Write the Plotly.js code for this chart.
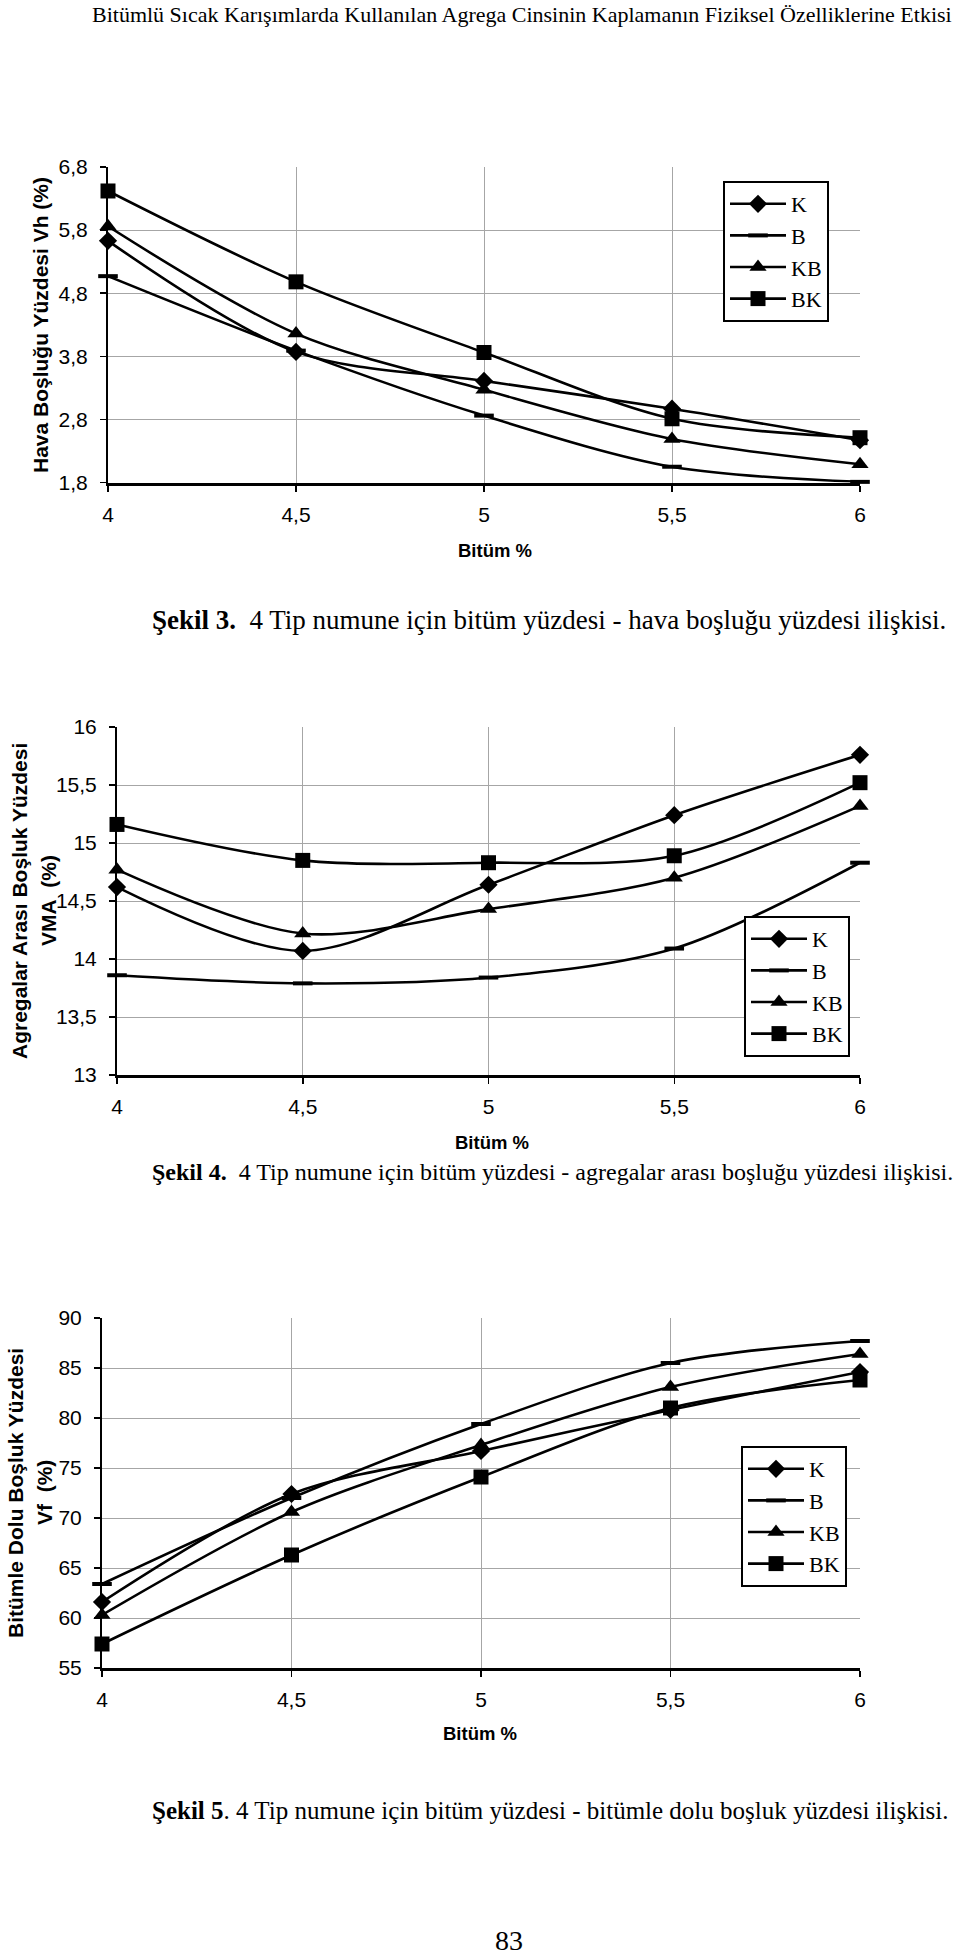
<!DOCTYPE html>
<html>
<head>
<meta charset="utf-8">
<script src="https://cdn.plot.ly/plotly-3.0.1.min.js"></script>
<style>
  html, body { margin: 0; padding: 0; background: #ffffff; }
  #chart { width: 960px; height: 1956px; }
</style>
</head>
<body>
<div id="chart"></div>
<script>
// ---------------- DATA ----------------
const bitum = [4, 4.5, 5, 5.5, 6];
const xTickVals = [4, 4.5, 5, 5.5, 6];
const xTickText = ['4', '4,5', '5', '5,5', '6'];
const seriesNames = ['K', 'B', 'KB', 'BK'];

// Şekil 3: Hava boşluğu yüzdesi Vh (%)
const vhK  = [5.63, 3.87, 3.41, 2.97, 2.47];
const vhB  = [5.07, 3.89, 2.86, 2.05, 1.81];
const vhKB = [5.86, 4.16, 3.27, 2.49, 2.09];
const vhBK = [6.42, 4.98, 3.86, 2.81, 2.51];
const vhTickVals = [1.8, 2.8, 3.8, 4.8, 5.8, 6.8];
const vhTickText = ['1,8', '2,8', '3,8', '4,8', '5,8', '6,8'];

// Şekil 4: VMA (%)
const vmaK  = [14.62, 14.07, 14.64, 15.24, 15.76];
const vmaB  = [13.86, 13.79, 13.84, 14.09, 14.83];
const vmaKB = [14.77, 14.22, 14.43, 14.70, 15.32];
const vmaBK = [15.16, 14.85, 14.83, 14.89, 15.52];
const vmaTickVals = [13, 13.5, 14, 14.5, 15, 15.5, 16];
const vmaTickText = ['13', '13,5', '14', '14,5', '15', '15,5', '16'];

// Şekil 5: Vf (%)
const vfK  = [61.6, 72.4, 76.7, 80.8, 84.6];
const vfB  = [63.4, 72.0, 79.4, 85.5, 87.7];
const vfKB = [60.3, 70.6, 77.3, 83.1, 86.4];
const vfBK = [57.4, 66.3, 74.1, 81.0, 83.8];
const vfTickVals = [55, 60, 65, 70, 75, 80, 85, 90];
const vfTickText = ['55', '60', '65', '70', '75', '80', '85', '90'];

// ---------------- STYLE ----------------
const W = 960, H = 1956;
const SANS = 'Liberation Sans, Arial, sans-serif';
const SERIF = 'Liberation Serif, Times New Roman, serif';
const px = p => p / W;
const py = p => 1 - p / H;

const markerStyles = {
  K:  { symbol: 'diamond', size: 14, color: '#000' },
  B:  { symbol: 'line-ew', size: 14, color: '#000', line: { width: 4, color: '#000' } },
  KB: { symbol: 'triangle-up', size: 15, color: '#000' },
  BK: { symbol: 'square', size: 15, color: '#000' }
};

function makeTraces(valsList, xa, ya, legendId) {
  return valsList.map((vals, i) => {
    const name = seriesNames[i];
    return {
      type: 'scatter', mode: 'lines+markers',
      x: bitum, y: vals, name: name,
      xaxis: xa, yaxis: ya,
      legend: legendId, legendgroup: legendId + name,
      line: { color: '#000', width: 2.6, shape: 'spline', smoothing: 0.9 },
      marker: markerStyles[name],
      cliponaxis: false
    };
  });
}

function xAxis(domain, anchor) {
  return {
    domain: domain, anchor: anchor, range: [4, 6],
    tickmode: 'array', tickvals: xTickVals, ticktext: xTickText,
    showgrid: true, gridcolor: '#a6a6a6', gridwidth: 1,
    showline: true, linecolor: '#000', linewidth: 3,
    ticks: 'outside', ticklen: 6, tickwidth: 1.5, tickcolor: '#000',
    ticklabelstandoff: 5,
    zeroline: false, fixedrange: true,
    tickfont: { family: SANS, size: 21, color: '#000' }
  };
}
function yAxis(domain, anchor, range, tv, tt) {
  return {
    domain: domain, anchor: anchor, range: range,
    tickmode: 'array', tickvals: tv, ticktext: tt,
    showgrid: true, gridcolor: '#a6a6a6', gridwidth: 1,
    showline: true, linecolor: '#000', linewidth: 2,
    ticks: 'outside', ticklen: 6, tickwidth: 1.5, tickcolor: '#000',
    ticklabelstandoff: 8,
    zeroline: false, fixedrange: true,
    tickfont: { family: SANS, size: 21, color: '#000' }
  };
}
function legendBox(xp, yp) {
  return {
    x: px(xp), y: py(yp), xanchor: 'left', yanchor: 'top',
    bgcolor: '#fff', bordercolor: '#000', borderwidth: 2,
    font: { family: SERIF, size: 22, color: '#000' },
    tracegroupgap: 7, itemwidth: 56, traceorder: 'normal'
  };
}

const traces = [].concat(
  makeTraces([vhK, vhB, vhKB, vhBK], 'x', 'y', 'legend'),
  makeTraces([vmaK, vmaB, vmaKB, vmaBK], 'x2', 'y2', 'legend2'),
  makeTraces([vfK, vfB, vfKB, vfBK], 'x3', 'y3', 'legend3')
);

function ann(text, xp, yp, opts) {
  return Object.assign({
    text: text, x: px(xp), y: py(yp), xref: 'paper', yref: 'paper',
    showarrow: false, xanchor: 'center', yanchor: 'middle',
    font: { family: SANS, size: 17, color: '#000' }
  }, opts || {});
}
const boldSans = s => ({ family: SANS, size: s, color: '#000' });
const serifCap = s => ({ family: SERIF, size: s, color: '#000' });

const annotations = [
  ann('Bitümlü Sıcak Karışımlarda Kullanılan Agrega Cinsinin Kaplamanın Fiziksel Özelliklerine Etkisi', 522, 15,
      { font: serifCap(22) }),
  // Chart 1 titles
  ann('<b>Hava Boşluğu Yüzdesi Vh (%)</b>', 40, 325, { textangle: -90, font: boldSans(21) }),
  ann('<b>Bitüm %</b>', 495, 551, { font: boldSans(18.5) }),
  ann('<b>Şekil 3.</b>\u00a0 4 Tip numune için bitüm yüzdesi - hava boşluğu yüzdesi ilişkisi.', 150, 620,
      { xanchor: 'left', font: serifCap(27) }),
  // Chart 2 titles
  ann('<b>Agregalar Arası Boşluk Yüzdesi</b>', 20, 901, { textangle: -90, font: boldSans(21) }),
  ann('<b>VMA\u00a0 (%)</b>', 49, 901, { textangle: -90, font: boldSans(21) }),
  ann('<b>Bitüm %</b>', 492, 1142, { font: boldSans(18.5) }),
  ann('<b>Şekil 4.</b>\u00a0 4 Tip numune için bitüm yüzdesi - agregalar arası boşluğu yüzdesi ilişkisi.', 150, 1172,
      { xanchor: 'left', font: serifCap(24) }),
  // Chart 3 titles
  ann('<b>Bitümle Dolu Boşluk Yüzdesi</b>', 15, 1493, { textangle: -90, font: boldSans(21) }),
  ann('<b>Vf\u00a0 (%)</b>', 44, 1493, { textangle: -90, font: boldSans(21) }),
  ann('<b>Bitüm %</b>', 480, 1733, { font: boldSans(18.5) }),
  ann('<b>Şekil 5</b>. 4 Tip numune için bitüm yüzdesi - bitümle dolu boşluk yüzdesi ilişkisi.', 150, 1810,
      { xanchor: 'left', font: serifCap(25) }),
  ann('83', 509, 1940, { font: serifCap(28) })
];

const layout = {
  width: W, height: H,
  margin: { l: 0, r: 0, t: 0, b: 0, pad: 0 },
  paper_bgcolor: '#fff', plot_bgcolor: '#fff',
  font: { family: SANS, color: '#000' },
  showlegend: true,
  xaxis:  xAxis([px(108), px(860)], 'y'),
  yaxis:  yAxis([py(482.5), py(167)], 'x', [1.8, 6.8], vhTickVals, vhTickText),
  xaxis2: xAxis([px(117), px(860)], 'y2'),
  yaxis2: yAxis([py(1075), py(727)], 'x2', [13, 16], vmaTickVals, vmaTickText),
  xaxis3: xAxis([px(102), px(860)], 'y3'),
  yaxis3: yAxis([py(1668), py(1318)], 'x3', [55, 90], vfTickVals, vfTickText),
  legend:  legendBox(723, 181),
  legend2: legendBox(744, 916),
  legend3: legendBox(741, 1446),
  annotations: annotations
};

Plotly.newPlot('chart', traces, layout, { staticPlot: true, displayModeBar: false });
</script>
</body>
</html>
